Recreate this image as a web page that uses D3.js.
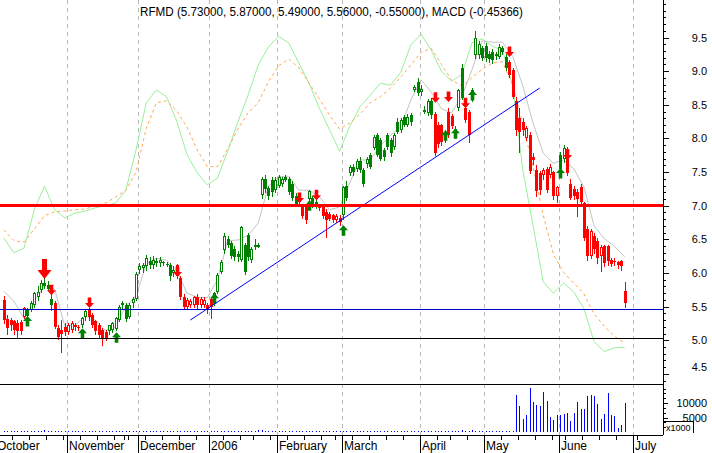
<!DOCTYPE html>
<html><head><meta charset="utf-8">
<script src="https://cdn.jsdelivr.net/npm/d3@7"></script>
<style>
html,body{margin:0;padding:0;background:#fff;}
svg{display:block;}
text{font-family:"Liberation Sans",Arial,sans-serif;fill:#000;}
</style>
</head><body>
<script>
// ---------------- DATA ----------------
const ticker = "RFMD";
const titleText = "RFMD (5.73000, 5.87000, 5.49000, 5.56000, -0.55000), MACD (-0.45366)";
const firstDate = "2005-10-05";
const holidays = ["2005-11-24","2005-12-26","2006-01-02","2006-01-16","2006-02-20","2006-04-14","2006-05-29","2006-07-04"];
const monthLabels = ["October","November","December","2006","February","March","April","May","June","July"];
const priceTicks = [4.5,5.0,5.5,6.0,6.5,7.0,7.5,8.0,8.5,9.0,9.5];
const volumeTicks = [5000,10000];

// OHLC per trading day from 2005-10-05 to 2006-06-28
const openP = [
 5.60,5.32,5.30,5.28,5.26,5.27,5.35,5.45,5.45,5.52,5.64,5.75,5.85,5.82,5.62,5.55,5.18,5.15,5.20,
 5.12,5.15,5.22,5.20,5.22,5.35,5.45,5.38,5.28,5.23,5.15,5.12,5.13,5.15,5.17,5.30,5.55,5.52,5.35,5.55,5.62,
 6.05,6.08,6.10,6.18,6.12,6.18,6.15,6.17,6.14,6.12,6.00,6.12,5.92,5.65,5.50,5.52,5.53,5.64,5.53,5.52,5.52,
 5.62,5.55,5.72,6.02,6.34,6.50,6.45,6.35,6.28,6.20,6.42,6.56,6.20,6.40,6.40,7.16,7.40,7.26,7.38,7.24,
 7.30,7.33,7.42,7.40,7.33,7.15,7.05,7.01,6.98,7.10,7.12,7.05,7.00,6.98,6.90,6.88,6.86,6.78,6.82,
 6.86,7.30,7.48,7.58,7.55,7.67,7.53,7.62,7.75,7.86,8.05,7.98,7.83,8.05,7.98,7.88,8.25,8.12,8.32,8.20,8.35,8.72,8.84,
 8.69,8.42,8.38,8.55,8.37,8.20,8.20,7.98,8.40,8.33,8.10,8.45,9.04,8.45,8.40,8.57,9.24,9.24,9.34,
 9.38,9.26,9.29,9.23,9.21,9.34,9.21,9.14,9.02,8.55,8.30,8.25,8.00,8.05,7.73,7.53,7.48,7.45,7.55,7.45,7.50,7.15,
 7.75,7.70,7.85,7.33,7.25,7.20,7.28,7.04,6.65,6.25,6.55,6.48,6.25,6.40,6.40,6.20,6.18,6.16,6.18,5.73];
const highP = [
 5.66,5.38,5.33,5.30,5.30,5.30,5.50,5.48,5.58,5.72,5.80,5.90,5.92,5.88,5.70,5.58,5.22,5.30,5.25,
 5.25,5.28,5.25,5.22,5.35,5.45,5.48,5.40,5.30,5.25,5.18,5.15,5.23,5.27,5.35,5.52,5.58,5.55,5.55,5.65,6.02,
 6.15,6.15,6.26,6.24,6.25,6.22,6.24,6.18,6.16,6.15,6.10,6.14,5.95,5.68,5.63,5.62,5.66,5.68,5.65,5.65,5.55,
 5.65,5.72,6.00,6.20,6.60,6.55,6.48,6.40,6.32,6.70,6.45,6.60,6.38,6.50,6.45,7.43,7.45,7.30,7.42,7.42,
 7.45,7.43,7.45,7.43,7.36,7.19,7.15,7.03,7.00,7.24,7.15,7.10,7.02,7.00,6.95,6.90,6.88,6.88,6.86,
 7.30,7.36,7.60,7.62,7.70,7.72,7.56,7.72,7.78,8.05,8.08,8.00,7.86,8.08,8.00,8.08,8.30,8.30,8.35,8.36,8.38,8.80,8.90,
 8.80,8.48,8.58,8.60,8.40,8.25,8.22,8.12,8.45,8.36,8.18,8.74,9.10,8.48,8.42,8.75,9.60,9.45,9.38,
 9.42,9.30,9.33,9.28,9.40,9.38,9.25,9.16,9.05,8.62,8.45,8.30,8.18,8.10,7.78,7.60,7.52,7.56,7.58,7.62,7.52,7.30,
 7.80,7.90,7.88,7.40,7.30,7.25,7.32,7.06,6.70,6.66,6.60,6.52,6.42,6.42,6.42,6.22,6.22,6.18,6.20,5.87];
const lowP = [
 5.25,5.10,5.15,5.10,5.03,5.10,5.33,5.33,5.43,5.50,5.60,5.72,5.78,5.74,5.45,5.18,5.02,4.82,5.08,
 5.10,5.12,5.15,5.15,5.20,5.30,5.30,5.20,5.10,5.05,4.93,5.00,5.10,5.12,5.15,5.28,5.48,5.28,5.33,5.50,5.60,
 6.00,6.02,6.05,6.08,6.08,6.10,6.10,6.12,6.10,5.90,5.95,5.92,5.62,5.48,5.48,5.50,5.50,5.48,5.50,5.50,5.40,
 5.33,5.52,5.70,6.00,6.30,6.38,6.22,6.20,6.18,6.18,5.98,6.20,6.17,6.35,6.38,7.12,7.20,7.10,7.15,7.20,
 7.28,7.30,7.36,7.18,7.08,6.99,7.00,6.82,6.74,7.08,6.98,6.96,6.94,6.82,6.54,6.78,6.76,6.76,6.72,
 6.80,7.08,7.45,7.46,7.52,7.50,7.30,7.58,7.56,7.84,7.74,7.68,7.68,7.85,7.74,7.85,8.08,8.10,8.18,8.18,8.20,8.70,8.65,
 8.65,8.38,8.35,8.30,7.75,7.88,7.90,7.95,8.02,8.15,8.05,8.42,8.58,8.25,7.95,8.55,9.20,9.20,9.17,
 9.15,9.14,9.12,9.18,9.19,9.25,9.02,8.92,8.60,8.05,7.80,8.05,7.98,7.48,7.62,7.15,7.18,7.40,7.20,7.42,7.10,7.05,
 7.50,7.65,7.45,7.10,7.10,6.85,7.02,6.49,6.20,6.22,6.30,6.15,6.03,6.10,6.12,6.10,6.12,6.08,6.05,5.49];
const closeP = [
 5.30,5.18,5.22,5.15,5.14,5.13,5.48,5.36,5.55,5.70,5.72,5.85,5.80,5.76,5.52,5.20,5.05,5.10,5.12,
 5.22,5.25,5.20,5.18,5.33,5.43,5.35,5.22,5.13,5.08,5.03,5.03,5.22,5.25,5.33,5.50,5.53,5.32,5.52,5.62,5.98,
 6.10,6.12,6.22,6.12,6.20,6.15,6.20,6.15,6.12,5.95,6.05,5.95,5.65,5.50,5.60,5.58,5.64,5.52,5.62,5.60,5.45,
 5.50,5.70,5.97,6.17,6.55,6.42,6.25,6.24,6.24,6.68,6.02,6.24,6.35,6.41,6.42,7.40,7.25,7.14,7.20,7.38,
 7.42,7.40,7.38,7.20,7.11,7.01,7.12,6.84,6.78,7.22,7.02,7.00,6.96,6.84,6.78,6.80,6.78,6.84,6.76,
 7.28,7.12,7.58,7.50,7.67,7.53,7.33,7.70,7.58,8.02,7.76,7.70,7.72,7.88,7.78,8.05,8.10,8.27,8.20,8.32,8.25,8.77,8.67,
 8.74,8.43,8.55,8.35,7.78,7.92,7.95,8.10,8.05,8.18,8.14,8.72,8.60,8.27,8.05,8.72,9.49,9.41,9.20,
 9.20,9.18,9.16,9.25,9.36,9.28,9.04,8.94,8.62,8.12,8.10,8.12,8.15,7.52,7.68,7.22,7.23,7.53,7.23,7.58,7.14,7.28,
 7.55,7.86,7.48,7.12,7.15,7.10,7.05,6.52,6.25,6.63,6.35,6.22,6.38,6.15,6.18,6.14,6.16,6.12,6.11,5.56];
// candle colour: r = lower close, g = higher close
const candleColor = (
 "rrrrrrrggggggggrrrr" +
 "rrrrggrrrrrrggggggggg" +
 "gggggggggggrrrrrrrrrr" +
 "rggggggggggggggggggg" +
 "gggggggrrgggrrrrrrr" +
 "ggggggggggggggggggggggg" +
 "ggggrrrgrrgggrrgggg" +
 "gggggggrrrrrrrrrrrrrrr" +
 "ggrrrrrrrrrrrrrrrrrr").split("");

// volume (x1000)
const volume = [
 420,380,450,400,360,410,390,440,470,430,380,400,520,480,390,410,450,430,380,
 400,370,350,420,390,460,410,380,430,400,370,420,390,360,440,410,300,380,400,420,450,
 390,410,380,420,360,400,430,380,350,410,470,440,460,390,370,360,340,350,380,300,320,
 400,430,450,480,420,400,410,380,360,450,430,420,390,410,520,600,480,430,410,420,
 440,420,390,400,430,410,450,420,460,400,380,430,410,440,400,420,390,410,430,
 450,440,460,410,400,380,420,440,410,430,460,400,420,440,410,400,390,420,450,410,430,470,440,
 480,430,410,440,500,470,430,450,420,460,410,440,520,480,450,660,430,410,400,
 420,400,390,410,430,440,460,480,500,
 12760,9130,4500,5830,15300,10450,9350,9130,13750,10780,5060,4180,5720,
 5830,6050,6710,3850,6710,10340,7810,7810,12430,12760,12430,9790,4510,6160,13310,5720,5500,1210,2420,10010];

// indicator lines, one value every 3rd trading day from 2005-10-05
const lineStep = 3;
const grayLine = [5.73,5.58,5.32,5.58,5.81,5.76,5.21,5.22,5.36,5.30,5.15,5.20,5.51,5.66,6.13,6.22,6.19,6.04,5.70,5.64,
 5.63,5.90,6.48,6.49,6.56,6.74,7.29,7.43,7.44,7.23,7.23,7.14,6.94,6.98,7.34,7.68,7.68,7.89,8.05,8.17,
 8.57,8.87,8.69,8.44,8.38,8.62,9.02,9.45,9.43,9.43,9.22,8.78,8.23,7.78,7.63,7.68,7.55,7.28,6.70,6.51,6.40,6.24];
const greenLine = [6.52,6.30,6.37,6.94,7.29,6.94,6.82,6.89,6.92,6.97,7.00,7.04,7.23,7.83,8.53,8.72,8.62,8.26,7.76,7.49,
 7.31,7.41,7.81,8.24,8.64,9.09,9.36,9.52,9.42,9.12,8.82,8.45,8.13,7.81,8.18,8.47,8.64,8.82,8.79,8.98,
 9.39,9.55,9.31,9.00,8.85,8.95,9.42,9.48,9.37,9.31,8.79,7.53,6.71,5.87,5.70,5.85,5.72,5.47,4.98,4.83,4.89,4.89];
const orangeLine = [6.64,6.48,6.46,6.65,6.85,6.91,6.92,6.94,6.95,7.00,7.04,7.13,7.23,7.50,8.15,8.53,8.56,8.41,8.17,7.83,
 7.58,7.58,7.84,8.14,8.38,8.53,8.84,9.08,9.18,9.05,8.82,8.59,8.35,8.14,8.23,8.36,8.53,8.62,8.75,8.91,
 9.09,9.28,9.34,9.10,8.87,8.78,8.90,9.03,9.12,9.14,8.79,8.20,7.58,6.86,6.28,6.01,5.85,5.69,5.39,5.21,5.06,4.96];

// horizontal levels and trend line
const redLevel = 7.0, blueLevel = 5.46, blackLevel = 5.03;
const trendDates = ["2005-12-22","2006-05-23"];
const trendPrices = [5.30, 8.75];

// signal arrows
const sellDates = ["2005-10-21","2005-10-25","2005-11-09","2005-12-16","2006-02-09","2006-02-16","2006-04-07","2006-04-13","2006-04-21","2006-05-10","2006-06-05"];
const sellPrices = [5.91,5.67,5.48,5.94,7.04,7.08,8.53,8.54,8.45,9.21,7.68];
const sellBig = [true,false,false,false,false,false,false,false,false,false,false];
const buyDates = ["2005-10-14","2005-11-07","2005-11-21","2006-01-04","2006-02-14","2006-03-01","2006-04-12","2006-04-18","2006-04-25","2006-06-01"];
const buyPrices = [5.36,5.18,5.12,5.70,7.08,6.71,8.12,8.15,8.72,7.56];

// ---------------- CHART ----------------
const W = 712, H = 453;
const plotRight = 663, priceBottom = 384, volBottom = 435;
const RED = "#ff0000", GREEN = "#008000";

const fmt = d3.timeFormat("%Y-%m-%d");
const days = d3.timeDay.range(new Date(2005,9,3), new Date(2006,6,8))
  .filter(d => d.getDay() !== 0 && d.getDay() !== 6 && !holidays.includes(fmt(d)));
const dayIdx = new Map(days.map((d,i) => [fmt(d), i]));
const i0 = dayIdx.get(firstDate);

const x = d3.scaleLinear()
  .domain([dayIdx.get("2005-11-01"), dayIdx.get("2006-07-03")])
  .range([66.7, 633.3]);
const cx = i => x(i) + 1.5;          // centre of a trading-day slot
const y = d3.scaleLinear().domain([5, 9]).range([340.24, 71.16]);
const yv = d3.scaleLinear().domain([0, 10000]).range([432, 403]);

const svg = d3.select("body").append("svg").attr("width", W).attr("height", H);
svg.append("rect").attr("width", W).attr("height", H).attr("fill", "#fff");

const defs = svg.append("defs");
defs.append("clipPath").attr("id","clipP").append("rect").attr("x",0).attr("y",0).attr("width",plotRight).attr("height",priceBottom);

// month boundaries
const monthStarts = days.map((d,i)=>({d,i})).filter((o,k,arr)=> k===0 || arr[k-1].d.getMonth() !== o.d.getMonth());
const weekStarts = days.map((d,i)=>({d,i})).filter((o,k,arr)=> k>0 && (o.d - arr[k-1].d) > 86400000*1.5 && arr[k-1].d.getMonth()===o.d.getMonth());

// dashed vertical grid
svg.append("g").selectAll("line").data(monthStarts.slice(1)).join("line")
  .attr("x1", o => Math.round(x(o.i)) + 0.5).attr("x2", o => Math.round(x(o.i)) + 0.5)
  .attr("y1", 0).attr("y2", volBottom)
  .attr("stroke", "#b8b8b8").attr("stroke-dasharray", "4,4");

const gP = svg.append("g").attr("clip-path","url(#clipP)");

// indicator lines
const lineGen = d3.line()
  .x((v,k) => cx(i0 + k*lineStep))
  .y(v => y(v));
gP.append("path").attr("d", lineGen(greenLine)).attr("fill","none").attr("stroke","#98f098").attr("stroke-width",1);
gP.append("path").attr("d", lineGen(orangeLine)).attr("fill","none").attr("stroke","#ffa850").attr("stroke-width",1).attr("stroke-dasharray","3,3");
gP.append("path").attr("d", lineGen(grayLine)).attr("fill","none").attr("stroke","#c4c4c4").attr("stroke-width",1);

// candles
const candles = closeP.map((c,j) => ({j, o:openP[j], h:highP[j], l:lowP[j], c, col: candleColor[j]==="r" ? RED : GREEN}));
const gC = gP.append("g").attr("shape-rendering","crispEdges");
candles.forEach(d => {
  const px = Math.round(cx(i0 + d.j));
  gC.append("line").attr("x1",px+0.5).attr("x2",px+0.5)
    .attr("y1",Math.round(y(d.h))).attr("y2",Math.round(y(d.l))+1).attr("stroke",d.col);
  const top = Math.round(y(Math.max(d.o,d.c))), bot = Math.round(y(Math.min(d.o,d.c)));
  if (d.c < d.o) {
    gC.append("rect").attr("x",px-1).attr("y",top).attr("width",3).attr("height",Math.max(1,bot-top)).attr("fill",d.col);
  } else {
    gC.append("rect").attr("x",px-0.5).attr("y",top+0.5).attr("width",2).attr("height",Math.max(1,bot-top-1))
      .attr("fill","#fff").attr("stroke",d.col);
  }
});

// arrows
function arrowPath(px, ty, dir, big) {
  const hw = big ? 7 : 4.5, hh = big ? 9 : 5, sw = big ? 2.5 : 1.8, sh = big ? 11 : 5.5;
  const s = dir; // +1 down arrow (tip at bottom), -1 up arrow (tip at top)
  return `M${px},${ty} L${px-hw},${ty-s*hh} L${px-sw},${ty-s*hh} L${px-sw},${ty-s*(hh+sh)} L${px+sw},${ty-s*(hh+sh)} L${px+sw},${ty-s*hh} L${px+hw},${ty-s*hh} Z`;
}
const gA = gP.append("g");
sellDates.forEach((dt,k) => {
  const px = Math.round(cx(dayIdx.get(dt))) + 0.5;
  gA.append("path").attr("d", arrowPath(px, y(sellPrices[k]), 1, sellBig[k])).attr("fill", RED);
});
buyDates.forEach((dt,k) => {
  const px = Math.round(cx(dayIdx.get(dt))) + 0.5;
  gA.append("path").attr("d", arrowPath(px, y(buyPrices[k]), -1, false)).attr("fill", GREEN);
});

// horizontal levels
const gL = svg.append("g").attr("shape-rendering","crispEdges");
gL.append("line").attr("x1",0).attr("x2",plotRight).attr("y1",y(redLevel)).attr("y2",y(redLevel)).attr("stroke",RED).attr("stroke-width",3);
gL.append("line").attr("x1",0).attr("x2",plotRight).attr("y1",Math.round(y(blueLevel))+0.5).attr("y2",Math.round(y(blueLevel))+0.5).attr("stroke","#0000cc");
gL.append("line").attr("x1",0).attr("x2",plotRight).attr("y1",Math.round(y(blackLevel))+0.5).attr("y2",Math.round(y(blackLevel))+0.5).attr("stroke","#000");

// trend line
gP.append("line")
  .attr("x1", cx(dayIdx.get(trendDates[0]))).attr("y1", y(trendPrices[0]))
  .attr("x2", cx(dayIdx.get(trendDates[1]))).attr("y2", y(trendPrices[1]))
  .attr("stroke","#0000ff").attr("stroke-width",1);

// panel separator + right axis line
gL.append("line").attr("x1",0).attr("x2",plotRight).attr("y1",priceBottom+0.5).attr("y2",priceBottom+0.5).attr("stroke","#000");
gL.append("line").attr("x1",plotRight+0.5).attr("x2",plotRight+0.5).attr("y1",0).attr("y2",volBottom).attr("stroke","#000");

// volume bars
svg.append("g").attr("shape-rendering","crispEdges").selectAll("line").data(volume).join("line")
  .attr("x1",(v,j)=>Math.round(cx(i0+j))+0.5).attr("x2",(v,j)=>Math.round(cx(i0+j))+0.5)
  .attr("y1", v => yv(v)).attr("y2", yv(0)).attr("stroke","#0000ff");

// price axis
const minorVals = d3.range(44, 101).map(v => v/10);
const axMinor = d3.axisRight(y).tickValues(minorVals).tickSize(3).tickFormat("");
const axMajor = d3.axisRight(y).tickValues(priceTicks).tickSize(6).tickFormat(d3.format(".1f"));
const gAx = svg.append("g").attr("transform",`translate(${plotRight},0)`);
gAx.append("g").call(axMinor).call(g=>g.select(".domain").remove());
gAx.append("g").call(axMajor).call(g=>g.select(".domain").remove())
  .call(g=>g.selectAll("text").attr("x",44).attr("text-anchor","end").attr("font-size",11)
    .attr("font-family","Liberation Sans, Arial, sans-serif")
    .attr("y", d => d === 4.5 ? -7 : 0));
gAx.selectAll("line").attr("stroke","#000").attr("shape-rendering","crispEdges");

// volume axis
const gVx = svg.append("g").attr("transform",`translate(${plotRight},0)`);
gVx.append("g").call(d3.axisRight(yv).tickValues(d3.range(1,10).map(k=>k*5000/3)).tickSize(3).tickFormat(""))
  .call(g=>g.select(".domain").remove());
gVx.append("g").call(d3.axisRight(yv).tickValues(volumeTicks).tickSize(5).tickFormat(d3.format("d")))
  .call(g=>g.select(".domain").remove())
  .call(g=>g.selectAll("text").attr("x",44).attr("text-anchor","end").attr("font-size",11)
    .attr("font-family","Liberation Sans, Arial, sans-serif"));
gVx.selectAll("line").attr("stroke","#000").attr("shape-rendering","crispEdges");
// x1000 box
gVx.append("path").attr("d","M0.5,421.5 H30.5 V433").attr("fill","none").attr("stroke","#000").attr("shape-rendering","crispEdges");
gVx.append("text").attr("x",3).attr("y",431).attr("font-size",9).text("x1000");

// time axis
const gX = svg.append("g").attr("shape-rendering","crispEdges");
gX.append("line").attr("x1",0).attr("x2",plotRight).attr("y1",volBottom+0.5).attr("y2",volBottom+0.5).attr("stroke","#000");
gX.selectAll("line.wk").data(weekStarts).join("line").attr("class","wk")
  .attr("x1",o=>Math.round(x(o.i))+0.5).attr("x2",o=>Math.round(x(o.i))+0.5)
  .attr("y1",volBottom).attr("y2",volBottom+5).attr("stroke","#000");
gX.selectAll("line.mo").data(monthStarts).join("line").attr("class","mo")
  .attr("x1",o=>Math.round(x(o.i))+0.5).attr("x2",o=>Math.round(x(o.i))+0.5)
  .attr("y1",volBottom).attr("y2",H).attr("stroke","#000");
svg.append("g").selectAll("text").data(monthStarts).join("text")
  .attr("x",o=>Math.round(x(o.i))+2).attr("y",450).attr("font-size",12)
  .text((o,k)=>monthLabels[k]);

// title
svg.append("text").attr("x",140).attr("y",15.5).attr("font-size",12)
  .attr("textLength",383).attr("lengthAdjust","spacingAndGlyphs").text(titleText);
</script>
</body></html>
